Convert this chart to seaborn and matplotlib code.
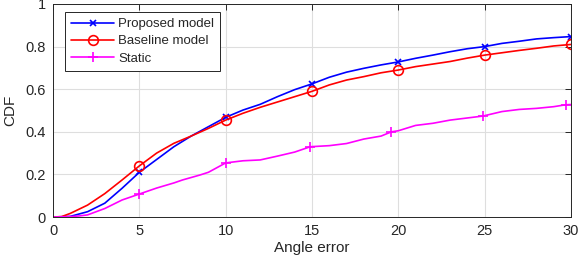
import numpy as np
import pandas as pd
import matplotlib
matplotlib.use("Agg")
import matplotlib.pyplot as plt
import seaborn as sns

# ---- data ----
x_prop = [0, 1, 2, 3, 4, 5, 6, 7, 8, 9, 10, 11, 12, 13, 14, 15, 16, 17, 18, 19, 20,
          21, 22, 23, 24, 25, 26, 27, 28, 29, 30]
y_prop = [0, 0.003, 0.025, 0.065, 0.135, 0.21, 0.27, 0.33, 0.38, 0.424, 0.468, 0.502,
          0.529, 0.565, 0.598, 0.625, 0.656, 0.68, 0.698, 0.714, 0.728, 0.745, 0.76,
          0.776, 0.79, 0.80, 0.815, 0.825, 0.836, 0.842, 0.847]

x_base = [0, 0.5, 1, 2, 3, 4, 5, 6, 7, 8, 9, 10, 11, 12, 13, 14, 15, 16, 17, 18, 19, 20,
          21, 22, 23, 24, 25, 26, 27, 28, 29, 30]
y_base = [0, 0.002, 0.017, 0.056, 0.11, 0.174, 0.24, 0.30, 0.346, 0.38, 0.416, 0.455,
          0.487, 0.515, 0.54, 0.565, 0.59, 0.62, 0.643, 0.659, 0.677, 0.69, 0.706, 0.718,
          0.73, 0.746, 0.76, 0.771, 0.782, 0.792, 0.803, 0.81]

x_stat = [0, 1, 1.5, 2, 3, 4, 5, 6, 7, 7.5, 8.5, 9, 10, 11, 12, 13, 14, 14.9, 16, 17,
          18, 19, 19.6, 20, 21, 22, 23, 24, 24.9, 26, 27, 28, 29, 29.7, 30]
y_stat = [0, 0.002, 0.005, 0.01, 0.04, 0.08, 0.108, 0.136, 0.16, 0.174, 0.197, 0.21,
          0.254, 0.264, 0.268, 0.286, 0.305, 0.33, 0.335, 0.345, 0.366, 0.38, 0.40,
          0.405, 0.43, 0.44, 0.455, 0.465, 0.474, 0.495, 0.505, 0.51, 0.518, 0.527, 0.528]

mark_prop = [5, 10, 15, 20, 25, 30]
mark_base = [5, 10, 15, 20, 25, 30]
mark_stat = [5, 10, 14.9, 19.6, 24.9, 29.7]

labels = ["Proposed model", "Baseline model", "Static"]
x_ticks = [0, 5, 10, 15, 20, 25, 30]
y_ticks = [0, 0.2, 0.4, 0.6, 0.8, 1]
y_ticklabels = ["0", "0.2", "0.4", "0.6", "0.8", "1"]

sns.set_style("white")
plt.rcParams["font.family"] = ["Liberation Sans", "DejaVu Sans"]

fig = plt.figure(figsize=(5.8, 2.65), dpi=100)
ax = fig.add_axes([0.0914, 0.181, 0.8931, 0.804])

series = [
    (x_prop, y_prop, mark_prop, labels[0], "#0000ff", "x", 5, "none"),
    (x_base, y_base, mark_base, labels[1], "#ff0000", "o", 7, "none"),
    (x_stat, y_stat, mark_stat, labels[2], "#ff00ff", "+", 7.5, "none"),
]
for xs, ys, marks, lab, col, mk, ms, mfc in series:
    df = pd.DataFrame({"x": xs, "y": ys})
    idx = [xs.index(m) for m in marks]
    sns.lineplot(data=df, x="x", y="y", ax=ax, color=col, label=lab,
                 estimator=None, sort=False, linewidth=1.2,
                 marker=mk, markevery=idx, markersize=ms,
                 markerfacecolor=mfc, markeredgecolor=col, markeredgewidth=1.2)

ax.set_xlim(0, 30)
ax.set_ylim(0, 1)
ax.set_xticks(x_ticks)
ax.set_yticks(y_ticks)
ax.set_yticklabels(y_ticklabels)
ax.grid(True, color="#dedede", linewidth=0.8)
ax.set_axisbelow(True)
for s in ax.spines.values():
    s.set_color("#262626")
    s.set_linewidth(0.7)
ax.tick_params(direction="in", length=4, width=0.7, colors="#262626",
               labelsize=10.5, top=True, right=True, labelcolor="#262626", pad=5)
ax.set_xlabel("Angle error", fontsize=11, color="#262626", labelpad=2)
ax.set_ylabel("CDF", fontsize=11, color="#262626", labelpad=6)

leg = ax.legend(loc="upper left", bbox_to_anchor=(0.023, 0.962), fontsize=9.5,
                frameon=True, fancybox=False, handlelength=3.3, handletextpad=0.3,
                borderpad=0.45, labelspacing=0.38, borderaxespad=0.0)
leg.get_frame().set_edgecolor("#262626")
leg.get_frame().set_linewidth(0.7)
leg.get_frame().set_alpha(1)

fig.savefig("out.png", dpi=100)
